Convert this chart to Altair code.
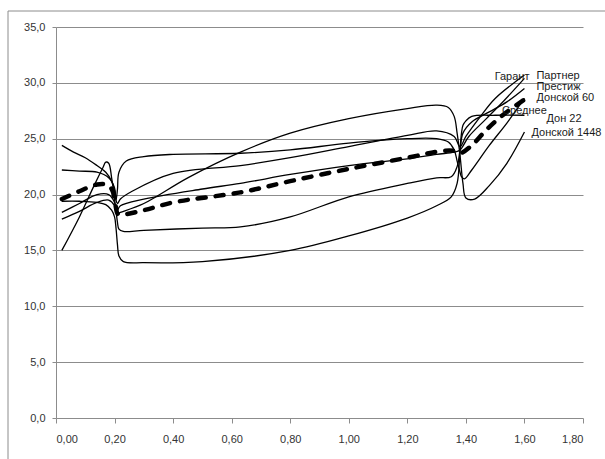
import altair as alt
import pandas as pd

# Traced paths of each variety (x, y), listed in drawing order
garant_x = [0.02, 0.08, 0.14, 0.18, 0.2, 0.205, 0.21, 0.22, 0.26, 0.4, 0.63, 0.8, 1.0, 1.2, 1.3, 1.36, 1.38, 1.4, 1.45, 1.5, 1.6]
garant_y = [22.2, 22.1, 22.0, 21.5, 20.6, 19.5, 19.2, 19.6, 20.3, 21.9, 22.6, 23.3, 24.3, 25.3, 25.7, 25.2, 24.3, 25.2, 27.0, 28.6, 30.7]

partner_x = [0.02, 0.08, 0.14, 0.18, 0.2, 0.205, 0.21, 0.22, 0.3, 0.5, 0.63, 0.8, 1.0, 1.2, 1.3, 1.36, 1.38, 1.41, 1.47, 1.53, 1.6]
partner_y = [17.8, 18.5, 19.3, 19.5, 19.0, 18.5, 18.6, 19.0, 19.6, 20.5, 21.0, 21.8, 22.6, 23.2, 23.6, 23.8, 24.0, 25.2, 26.8, 28.4, 30.4]

prestige_x = [0.02, 0.08, 0.14, 0.18, 0.2, 0.205, 0.21, 0.215, 0.23, 0.3, 0.5, 0.63, 0.8, 1.0, 1.2, 1.3, 1.35, 1.37, 1.38, 1.39, 1.42, 1.48, 1.54, 1.6]
prestige_y = [18.4, 19.2, 20.0, 20.0, 19.3, 18.5, 17.5, 16.9, 16.7, 16.8, 17.0, 17.1, 18.0, 19.8, 21.0, 21.5, 21.6, 22.5, 24.0, 25.5, 26.5, 27.4, 28.3, 29.5]

donskoy60_x = [0.02, 0.06, 0.1, 0.14, 0.17, 0.19, 0.2, 0.205, 0.21, 0.215, 0.24, 0.3, 0.4, 0.63, 0.8, 1.0, 1.2, 1.3, 1.34, 1.36, 1.37, 1.38, 1.385, 1.395, 1.42, 1.48, 1.54, 1.6]
donskoy60_y = [24.4, 23.8, 23.3, 22.6, 22.0, 21.2, 20.4, 19.5, 20.5, 22.0, 23.0, 23.4, 23.6, 23.7, 24.0, 24.6, 25.0, 25.0, 24.7, 24.0, 23.0, 22.0, 21.6, 21.4, 22.2, 24.4, 26.4, 28.6]

don22_x = [0.02, 0.08, 0.14, 0.17, 0.19, 0.2, 0.205, 0.21, 0.215, 0.23, 0.3, 0.5, 0.8, 1.0, 1.2, 1.3, 1.35, 1.37, 1.38, 1.385, 1.39, 1.4, 1.42, 1.5, 1.6]
don22_y = [19.4, 19.4, 19.3, 19.1, 18.6, 18.0, 17.0, 15.5, 14.5, 14.0, 13.9, 14.0, 15.0, 16.3, 17.9, 19.0, 19.8, 21.0, 24.0, 25.5, 26.2, 26.6, 27.0, 27.1, 27.1]

donskoy1448_x = [0.02, 0.08, 0.13, 0.16, 0.17, 0.18, 0.19, 0.2, 0.205, 0.21, 0.22, 0.3, 0.45, 0.63, 0.8, 1.0, 1.2, 1.3, 1.34, 1.36, 1.37, 1.38, 1.39, 1.4, 1.43, 1.48, 1.54, 1.6]
donskoy1448_y = [15.0, 18.0, 20.8, 22.4, 22.9, 22.8, 21.5, 19.6, 18.6, 18.3, 18.4, 19.2, 21.5, 23.8, 25.5, 26.8, 27.7, 28.0, 27.8, 27.0, 25.5, 23.5, 21.0, 19.7, 19.6, 20.8, 22.8, 25.6]

# Mean of all varieties
mean_x = [0.02, 0.08, 0.14, 0.17, 0.19, 0.2, 0.205, 0.21, 0.22, 0.3, 0.4, 0.63, 0.8, 1.0, 1.2, 1.32, 1.36, 1.38, 1.42, 1.47, 1.53, 1.6]
mean_y = [19.6, 20.3, 20.9, 20.9, 20.5, 19.6, 18.8, 18.3, 18.2, 18.6, 19.3, 20.2, 21.2, 22.3, 23.3, 23.9, 23.9, 23.7, 24.4, 25.8, 27.2, 28.5]

paths = [
    ("Гарант", garant_x, garant_y),
    ("Партнер", partner_x, partner_y),
    ("Престиж", prestige_x, prestige_y),
    ("Донской 60", donskoy60_x, donskoy60_y),
    ("Дон 22", don22_x, don22_y),
    ("Донской 1448", donskoy1448_x, donskoy1448_y),
]

rows = []
for name, xs, ys in paths:
    for i, (x, y) in enumerate(zip(xs, ys)):
        rows.append({"series": name, "x": x, "y": y, "step": i})
varieties = pd.DataFrame(rows)
mean_df = pd.DataFrame({"series": "Среднее", "x": mean_x, "y": mean_y, "step": range(len(mean_x))})

# End-of-line labels, anchored at the last point of each line: (align, dx, dy)
label_style = {
    "Гарант": ("right", 5, 2),
    "Партнер": ("left", 12, -2),
    "Престиж": ("left", 12, -1),
    "Донской 60": ("left", 12, 0),
    "Среднее": ("center", 0, 11),
    "Дон 22": ("left", 22, 4),
    "Донской 1448": ("left", 7, 1),
}
label_rows = []
for name, xs, ys in paths + [("Среднее", mean_x, mean_y)]:
    a, dx, dy = label_style[name]
    label_rows.append({"series": name, "x": xs[-1], "y": ys[-1], "align": a, "dx": dx, "dy": dy})
labels = pd.DataFrame(label_rows)

FONT = "Liberation Sans"
GRID = "#8c8c8c"
INK = "#333333"

x_scale = alt.Scale(domain=[0, 1.8], nice=False, zero=False)
y_scale = alt.Scale(domain=[0, 35], nice=False)

x_axis = alt.Axis(values=[0, 0.2, 0.4, 0.6, 0.8, 1.0, 1.2, 1.4, 1.6, 1.8],
                  labelExpr="replace(format(datum.value, '.2f'), '.', ',')",
                  grid=False, domain=False, tickColor=GRID, tickSize=5,
                  labelPadding=10, labelFontSize=11, labelColor=INK,
                  labelFont=FONT, title=None)
y_axis = alt.Axis(values=[0, 5, 10, 15, 20, 25, 30, 35],
                  labelExpr="replace(format(datum.value, '.1f'), '.', ',')",
                  grid=True, gridColor=GRID, gridWidth=1,
                  domain=True, domainColor=GRID, tickColor=GRID, tickSize=4,
                  labelPadding=7, labelFontSize=11, labelColor=INK,
                  labelFont=FONT, title=None)

lines = alt.Chart(varieties).mark_line(
    interpolate="catmull-rom", color="black", strokeWidth=1.3
).encode(
    x=alt.X("x:Q", scale=x_scale, axis=x_axis),
    y=alt.Y("y:Q", scale=y_scale, axis=y_axis),
    detail="series:N", order="step:Q",
)

mean_line = alt.Chart(mean_df).mark_line(
    interpolate="catmull-rom", color="black", strokeWidth=4.5,
    strokeDash=[8, 10], strokeCap="round"
).encode(x=alt.X("x:Q", scale=x_scale), y=alt.Y("y:Q", scale=y_scale), order="step:Q")

text_layers = []
for _, r in labels.iterrows():
    text_layers.append(
        alt.Chart(labels[labels.series == r.series]).mark_text(
            align=r["align"], baseline="middle", dx=int(r.dx), dy=int(r.dy),
            font=FONT, fontSize=11, color="#1a1a1a"
        ).encode(x=alt.X("x:Q", scale=x_scale), y=alt.Y("y:Q", scale=y_scale), text="series:N")
    )

# Thin frame around the whole chart
frame = alt.Chart(pd.DataFrame({"k": [0]})).mark_rect(
    fill=None, stroke=GRID, strokeWidth=1
).encode(x=alt.value(-48), x2=alt.value(600), y=alt.value(-16), y2=alt.value(480))

chart = alt.layer(frame, lines, mean_line, *text_layers).properties(
    width=527, height=391,
    autosize=alt.AutoSizeParams(type="none"),
    padding={"left": 56, "top": 27, "right": 22, "bottom": 41},
    background="white",
).configure_view(stroke=None)

chart.save("out.html", embed_options={"renderer": "svg", "actions": False})
